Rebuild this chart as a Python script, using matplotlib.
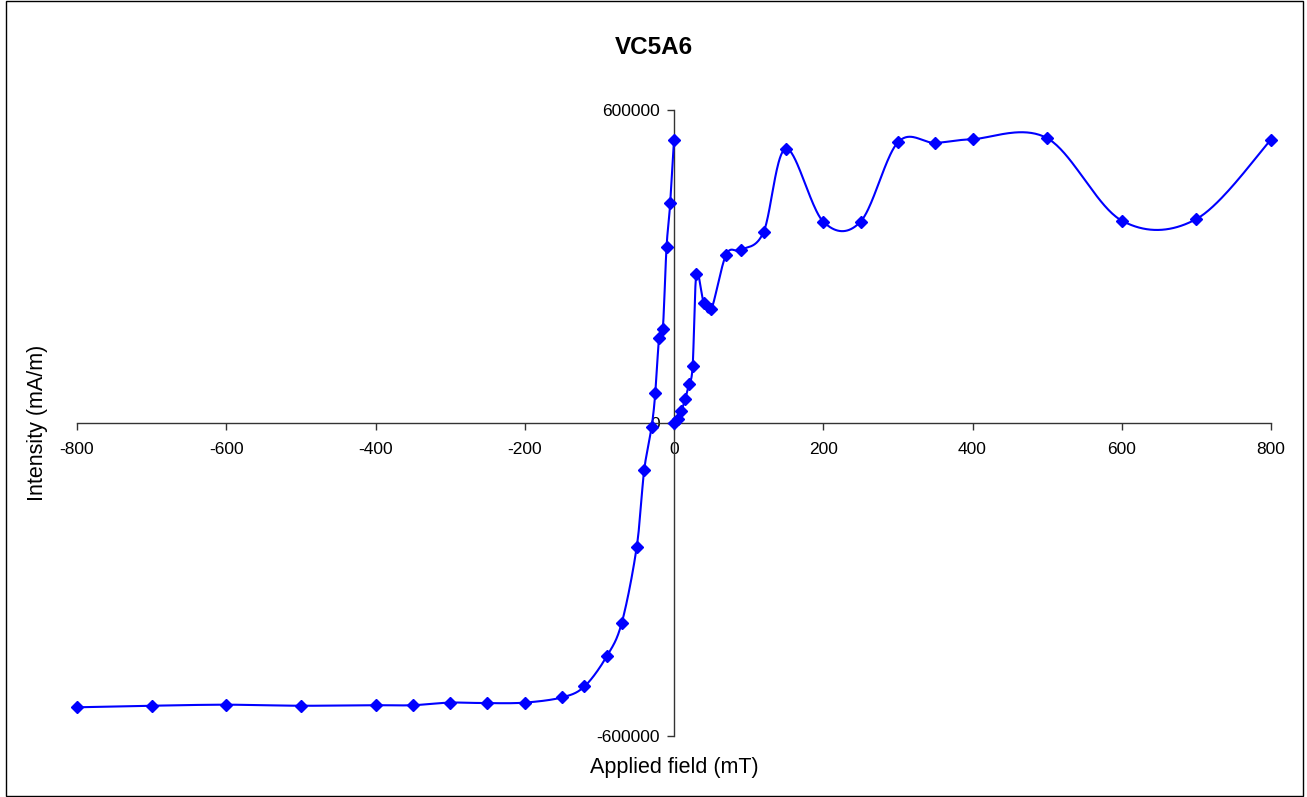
import numpy as np
import matplotlib
matplotlib.use('Agg')
import matplotlib.pyplot as plt
from matplotlib.patches import Rectangle

# ============================================================================
# DATA
# ============================================================================

TITLE   = 'VC5A6'
X_LABEL = 'Applied field (mT)'
Y_LABEL = 'Intensity (mA/m)'

# acquisition branch (0 -> +800 mT)
field_up = [0, 5, 10, 15, 20, 25, 30, 40, 50, 70, 90, 120, 150,
            200, 250, 300, 350, 400, 500, 600, 700, 800]
inten_up = [0, 7000, 23500, 46000, 74000, 109000, 285000, 230000, 218000,
            323000, 332000, 366000, 526000, 386000, 386000, 538000, 537000,
            544000, 546000, 388000, 391000, 543000]

# back-field branch (0 -> -800 mT)
field_back = [0, -5, -10, -15, -20, -25, -30, -40, -50, -70, -90, -120,
              -150, -200, -250, -300, -350, -400, -500, -600, -700, -800]
inten_back = [542000, 422000, 337000, 180000, 162000, 58000, -7000, -91000,
              -238000, -383000, -447000, -505000, -526000, -536000, -537000,
              -536000, -541000, -541000, -542000, -540000, -542000, -545000]

x_ticks = [-800, -600, -400, -200, 0, 200, 400, 600, 800]
y_ticks = [-600000, 0, 600000]

# ============================================================================
# HELPERS
# ============================================================================

def smooth(x, y, n=40):
    """Excel-like smoothed line: Catmull-Rom segments as cubic Beziers."""
    p = np.column_stack([x, y]).astype(float)
    p = np.vstack([p[0], p, p[-1]])          # pad ends
    out = []
    t = np.linspace(0, 1, n)[:, None]
    for i in range(1, len(p) - 2):
        p0, p1, p2, p3 = p[i - 1], p[i], p[i + 1], p[i + 2]
        c1 = p1 + (p2 - p0) / 6.0
        c2 = p2 - (p3 - p1) / 6.0
        seg = ((1 - t) ** 3) * p1 + 3 * ((1 - t) ** 2) * t * c1 \
            + 3 * (1 - t) * t ** 2 * c2 + t ** 3 * p2
        out.append(seg if i == 1 else seg[1:])
    seg = np.vstack(out)
    return seg[:, 0], seg[:, 1]

# ============================================================================
# PLOT
# ============================================================================

plt.rcParams['font.family'] = ['Liberation Sans', 'DejaVu Sans']
plt.rcParams['axes.unicode_minus'] = False

W, H = 1307, 797
fig = plt.figure(figsize=(W / 100, H / 100), dpi=100)
ax = fig.add_axes([77 / W, 1 - 736 / H, 1194 / W, 626 / H])

BLUE = '#0000FF'
for fx, fy in [(field_up, inten_up), (field_back, inten_back)]:
    sx, sy = smooth(fx, fy)
    ax.plot(sx, sy, color=BLUE, lw=1.5, zorder=3, clip_on=False)
    ax.plot(fx, fy, ls='none', marker='D', ms=6, color=BLUE,
            zorder=4, clip_on=False)

ax.set_xlim(-800, 800)
ax.set_ylim(-600000, 600000)

for side in ['top', 'right']:
    ax.spines[side].set_visible(False)
for side in ['left', 'bottom']:
    ax.spines[side].set_position(('data', 0))
    ax.spines[side].set_color('#333333')
    ax.spines[side].set_linewidth(1.0)

ax.set_xticks(x_ticks)
ax.set_xticklabels([str(v) for v in x_ticks])
ax.set_yticks(y_ticks)
ax.set_yticklabels([str(v) for v in y_ticks])
ax.tick_params(axis='x', direction='out', length=5, width=1,
               color='#333333', labelsize=12.5, pad=9)
ax.tick_params(axis='y', direction='out', length=5, width=1,
               color='#333333', labelsize=12.5, pad=5)

fig.text(653.5 / W, 1 - 47 / H, TITLE, ha='center', va='center',
         fontsize=17.5, fontweight='bold')
fig.text(674 / W, 1 - 767 / H, X_LABEL, ha='center', va='center',
         fontsize=15.5)
fig.text(38 / W, 1 - 423 / H, Y_LABEL, ha='center', va='center',
         fontsize=15.5, rotation=90)

# chart-area frame
fig.patches.append(Rectangle((6 / W, 1 / H), 1297 / W, 795 / H,
                             transform=fig.transFigure, fill=False,
                             edgecolor='black', lw=1.0))

fig.savefig('out.png', dpi=100)
